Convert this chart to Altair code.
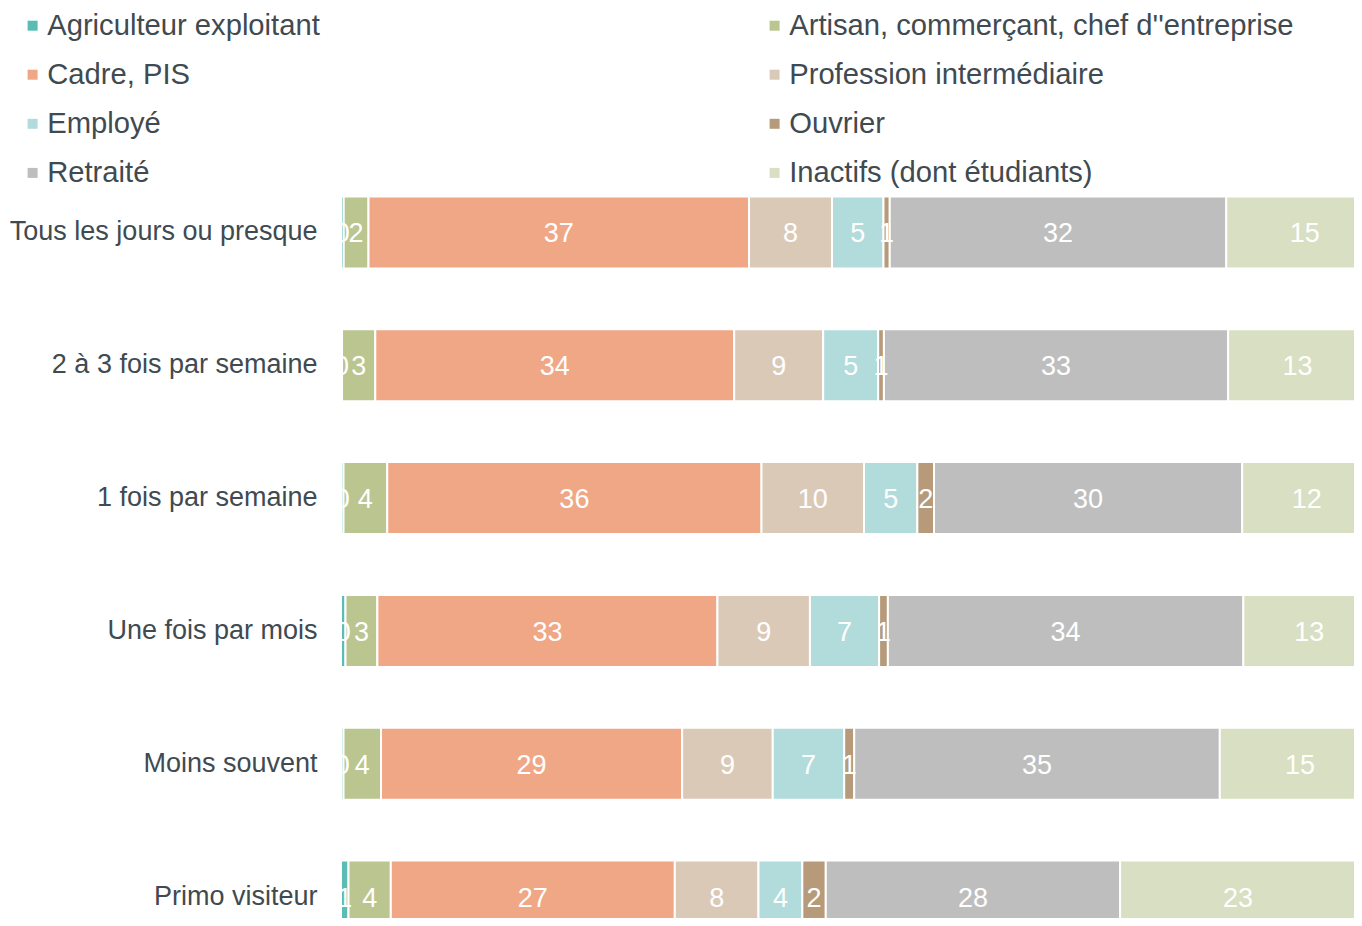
import altair as alt
import pandas as pd

categories = [
    "Tous les jours ou presque",
    "2 à 3 fois par semaine",
    "1 fois par semaine",
    "Une fois par mois",
    "Moins souvent",
    "Primo visiteur",
]
groups = [
    "Agriculteur exploitant",
    "Artisan, commerçant, chef d''entreprise",
    "Cadre, PIS",
    "Profession intermédiaire",
    "Employé",
    "Ouvrier",
    "Retraité",
    "Inactifs (dont étudiants)",
]
agriculteur = [0.26, 0.1, 0.24, 0.43, 0.24, 0.72]
artisan = [2.38, 3.19, 4.2, 3.06, 3.6, 4.06]
cadre = [36.52, 34.45, 35.92, 32.64, 28.9, 27.26]
profession = [7.97, 8.54, 9.84, 8.88, 8.7, 8.03]
employe = [4.94, 5.28, 5.12, 6.64, 6.86, 4.21]
ouvrier = [0.6, 0.55, 1.6, 0.84, 0.96, 2.25]
retraite = [32.3, 33.04, 29.58, 34.12, 35.09, 28.25]
inactifs = [15.07, 13.3, 12.4, 12.67, 15.4, 22.63]

colors = ["#5bbcb4", "#bac590", "#f0a785", "#dbc9b8", "#b2dbdb", "#b69a79", "#bebebe", "#d8dfc2"]

# legend is laid out column by column: left column first, then right column
legend_order = [0, 2, 4, 6, 1, 3, 5, 7]
legend_domain = [groups[i] for i in legend_order]
legend_range = [colors[i] for i in legend_order]

series = [agriculteur, artisan, cadre, profession, employe, ouvrier, retraite, inactifs]
rows = []
for gi, (g, vals) in enumerate(zip(groups, series)):
    for c, v in zip(categories, vals):
        rows.append({"cat": c, "group": g, "order": gi, "value": v})
df = pd.DataFrame(rows)

TXT = "#404a50"
FONT = "Liberation Sans"

base = alt.Chart(df).transform_stack(
    stack="value",
    groupby=["cat"],
    as_=["x0", "x1"],
    sort=[alt.SortField("order", order="ascending")],
).transform_calculate(mid="(datum.x0 + datum.x1) / 2")

y_enc = alt.Y(
    "cat:N",
    sort=categories,
    scale=alt.Scale(range=[0, 797], paddingInner=0.4578, paddingOuter=0.2289),
    axis=alt.Axis(
        title=None,
        ticks=False,
        domain=False,
        grid=False,
        labelFontSize=27,
        labelColor=TXT,
        labelFont=FONT,
        labelPadding=24,
        labelLimit=400,
    ),
)
x_scale = alt.Scale(domain=[0, 97.23], nice=False, zero=False)

bars = base.mark_bar(stroke="white", strokeWidth=2, clip=True).encode(
    x=alt.X("x0:Q", scale=x_scale, axis=None),
    x2="x1:Q",
    y=y_enc,
    color=alt.Color(
        "group:N",
        scale=alt.Scale(domain=legend_domain, range=legend_range),
        legend=alt.Legend(
            title=None,
            orient="none",
            legendX=-323,
            legendY=-155,
            columns=2,
            columnPadding=440,
            rowPadding=19.1,
            symbolType="square",
            symbolSize=100,
            symbolStrokeWidth=0,
            labelFontSize=29.2,
            labelColor=TXT,
            labelFont=FONT,
            labelOffset=0,
            labelLimit=700,
            padding=0,
        ),
    ),
)

text = base.mark_text(color="white", fontSize=27, font=FONT, clip=True, dy=2).encode(
    x=alt.X("mid:Q", scale=x_scale, axis=None),
    y=y_enc,
    text=alt.Text("value:Q", format=".0f"),
)

chart = (
    alt.layer(bars, text)
    .properties(
        width=1013,
        height=752,
        autosize=alt.AutoSizeParams(type="none"),
        padding={"left": 333, "top": 158, "right": 0, "bottom": 0},
    )
    .configure(font=FONT)
    .configure_view(stroke="transparent", strokeWidth=0)
    .configure_axis(grid=False, domain=False)
)

chart.save("out.html", embed_options={"renderer": "svg", "actions": False})
